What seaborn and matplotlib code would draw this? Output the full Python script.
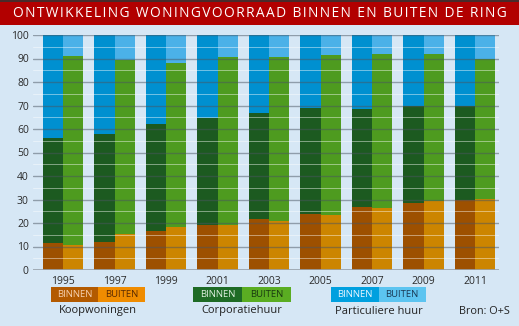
import matplotlib
matplotlib.use("Agg")
import matplotlib.pyplot as plt
import seaborn as sns
import pandas as pd
from matplotlib.patches import Rectangle

years = ["1995", "1997", "1999", "2001", "2003", "2005", "2007", "2009", "2011"]
# Koopwoningen (bottom segment)
koop_binnen = [11.6, 12.1, 16.7, 19.3, 21.6, 24.0, 27.0, 28.4, 29.6]
koop_buiten = [10.8, 15.3, 18.2, 19.3, 20.7, 23.4, 26.4, 29.2, 30.4]
# Corporatiehuur (middle segment)
corp_binnen = [44.6, 45.8, 45.4, 45.4, 45.2, 44.9, 41.5, 41.5, 40.0]
corp_buiten = [80.2, 74.2, 69.9, 71.5, 69.8, 68.1, 65.4, 62.6, 59.4]
# Particuliere huur (top segment)
part_binnen = [43.8, 42.1, 37.9, 35.3, 33.2, 31.1, 31.5, 30.1, 30.4]
part_buiten = [9.0, 10.5, 11.9, 9.2, 9.5, 8.5, 8.2, 8.2, 10.2]

loc_labels = ["BINNEN", "BUITEN"]
group_labels = ["Koopwoningen", "Corporatiehuur", "Particuliere huur"]

BG = "#D6E7F5"
c_koop = ["#9D5000", "#CC8500"]
c_corp = ["#1C5A20", "#4E9B1F"]
c_part = ["#0090D0", "#4BB1E8"]
leg_koop = ["#B35A00", "#F08C00"]
leg_corp = ["#1E6B25", "#5AAD22"]
leg_part = ["#00A0DF", "#5CC4F0"]

rows = []
for i, y in enumerate(years):
    for loc, k, c, p in ((loc_labels[0], koop_binnen[i], corp_binnen[i], part_binnen[i]),
                         (loc_labels[1], koop_buiten[i], corp_buiten[i], part_buiten[i])):
        rows.append({"jaar": y, "locatie": loc, "koop": k, "corp": k + c, "part": k + c + p})
df = pd.DataFrame(rows)

sns.set_theme(style="white")
plt.rcParams["font.family"] = ["Open Sans", "DejaVu Sans"]

fig = plt.figure(figsize=(5.19, 3.26), dpi=100, facecolor=BG)
ax = fig.add_axes([33 / 519, 56 / 326, 466 / 519, 235 / 326])
ax.set_facecolor(BG)

for col, pal in (("part", c_part), ("corp", c_corp), ("koop", c_koop)):
    sns.barplot(data=df, x="jaar", y=col, hue="locatie", hue_order=loc_labels,
                palette=pal, width=0.78, gap=0, dodge=True, saturation=1,
                linewidth=0, errorbar=None, legend=False, ax=ax)

ax.set_ylim(0, 100)
ax.set_xlim(-0.583, 8.466)
ax.set_yticks(range(0, 101, 10))
ax.set_xlabel("")
ax.set_ylabel("")
for s in ax.spines.values():
    s.set_visible(False)
ax.tick_params(axis="both", length=0, labelsize=7.5, colors="#2a2a2a", pad=3)
ax.tick_params(axis="x", pad=4)

# grid lines drawn over bars
for v in range(0, 101, 10):
    ax.axhline(v, color="#4a5560", alpha=0.5, lw=1.0, zorder=5)
for v in range(5, 100, 10):
    ax.axhline(v, color="white", alpha=0.45, lw=0.7, zorder=5)
ax.axhline(0, color="#9aa4ad", lw=1.2, zorder=6)

# title bar
fig.patches.append(Rectangle((0, 1 - 25 / 326), 1, 25 / 326, transform=fig.transFigure,
                             facecolor="#B20000", edgecolor="none", zorder=0))
fig.patches.append(Rectangle((0, 1 - 2 / 326), 1, 2 / 326, transform=fig.transFigure,
                             facecolor="#4a2a2a", edgecolor="none", zorder=1))
title = "ONTWIKKELING WONINGVOORRAAD BINNEN EN BUITEN DE RING"
spaced = "\u200a".join(title)
fig.text(259.5 / 519, 1 - 13.5 / 326, spaced, color="white", fontsize=9.9,
         ha="center", va="center", family=["Open Sans", "DejaVu Sans"])

# legend blocks
def block(x0, w, y0, h, colors, txtcols, label):
    H = 326
    for j, (c, tc, t) in enumerate(zip(colors, txtcols, loc_labels)):
        fig.patches.append(Rectangle((x0 / 519 + j * w / 519, 1 - (y0 + h) / H), w / 519, h / H,
                                     transform=fig.transFigure, facecolor=c, edgecolor="none"))
        fig.text((x0 + j * w + w / 2) / 519, 1 - (y0 + h / 2) / H, t, color=tc,
                 fontsize=6.8, ha="center", va="center")
    fig.text((x0 + w) / 519, 1 - 311 / H, label, color="#222222", fontsize=8,
             ha="center", va="center")

block(51, 47, 287, 15, leg_koop, ["#F5D0B0", "#5A2A00"], group_labels[0])
block(193, 49, 287, 15, leg_corp, ["#DDEEDD", "#1A3A10"], group_labels[1])
block(331, 47.5, 287, 15, leg_part, ["#E8F6FF", "#1A3A55"], group_labels[2])

fig.text(510 / 519, 1 - 312 / 326, "Bron: O+S", color="#222222", fontsize=7.8,
         ha="right", va="center")

fig.savefig("out.png", dpi=100, facecolor=BG)
